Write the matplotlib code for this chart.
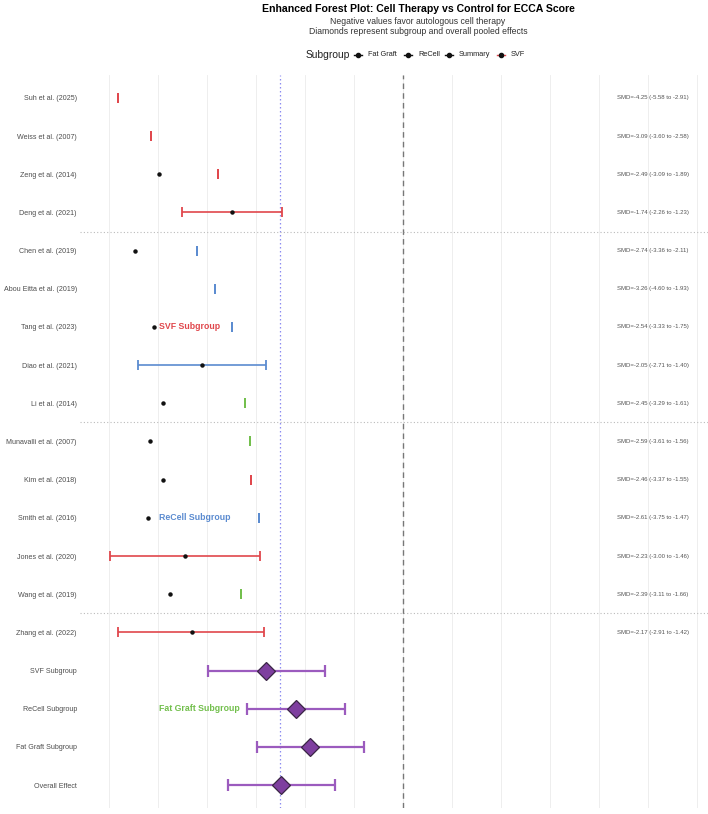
import numpy as np
import matplotlib
matplotlib.use("Agg")
import matplotlib.pyplot as plt
from matplotlib.lines import Line2D

plt.rcParams['font.family'] = ['Liberation Sans', 'DejaVu Sans']

# ---------------- data ----------------
studies = ["Suh et al. (2025)", "Weiss et al. (2007)", "Zeng et al. (2014)", "Deng et al. (2021)",
           "Chen et al. (2019)", "Abou Eitta et al. (2019)", "Tang et al. (2023)", "Diao et al. (2021)",
           "Li et al. (2014)", "Munavalli et al. (2007)", "Kim et al. (2018)", "Smith et al. (2016)",
           "Jones et al. (2020)", "Wang et al. (2019)", "Zhang et al. (2022)"]
study_groups = ["SVF", "SVF", "SVF", "SVF", "ReCell", "ReCell", "ReCell", "ReCell",
                "Fat Graft", "Fat Graft", "SVF", "ReCell", "SVF", "Fat Graft", "SVF"]
study_points = [np.nan, np.nan, -4.98, -3.49, -5.47, np.nan, -5.08, -4.10,
                -4.89, -5.16, -4.90, -5.20, -4.44, -4.75, -4.31]
study_lo = [-5.82, -5.14, -3.78, -4.51, -4.20, -3.84, -3.49, -5.41,
            -3.22, -3.12, -3.10, -2.94, -5.98, -3.31, -5.82]
study_hi = [-5.82, -5.14, -3.78, -2.47, -4.20, -3.84, -3.49, -2.80,
            -3.22, -3.12, -3.10, -2.94, -2.92, -3.31, -2.83]
smd_labels = ["SMD=-4.25 (-5.58 to -2.91)", "SMD=-3.09 (-3.60 to -2.58)", "SMD=-2.49 (-3.09 to -1.89)",
              "SMD=-1.74 (-2.26 to -1.23)", "SMD=-2.74 (-3.36 to -2.11)", "SMD=-3.26 (-4.60 to -1.93)",
              "SMD=-2.54 (-3.33 to -1.75)", "SMD=-2.05 (-2.71 to -1.40)", "SMD=-2.45 (-3.29 to -1.61)",
              "SMD=-2.59 (-3.61 to -1.56)", "SMD=-2.46 (-3.37 to -1.55)", "SMD=-2.61 (-3.75 to -1.47)",
              "SMD=-2.23 (-3.00 to -1.46)", "SMD=-2.39 (-3.11 to -1.66)", "SMD=-2.17 (-2.91 to -1.42)"]

summaries = ["SVF Subgroup", "ReCell Subgroup", "Fat Graft Subgroup", "Overall Effect"]
summary_est = [-2.80, -2.18, -1.90, -2.49]
summary_lo = [-3.98, -3.18, -2.98, -3.57]
summary_hi = [-1.59, -1.18, -0.80, -1.39]
overall_ref = -2.51

annot_texts = ["SVF Subgroup", "ReCell Subgroup", "Fat Graft Subgroup"]
annot_rows = [6, 11, 16]
annot_groups = ["SVF", "ReCell", "Fat Graft"]
annot_x = -4.98

separators = [3.5, 8.5, 13.5]
x_ticks = [-6, -5, -4, -3, -2, -1, 0, 1, 2, 3, 4, 5, 6]

legend_names = ["Fat Graft", "ReCell", "Summary", "SVF"]

# ---------------- style ----------------
group_colors = {"SVF": "#E0474C", "ReCell": "#5B8BD0", "Fat Graft": "#72BF4C"}
purple_line = "#9B5BBE"
purple_fill = "#7E3F9F"

W, H = 708, 814
fig = plt.figure(figsize=(W / 100, H / 100), dpi=100)
ax = fig.add_axes([80 / W, 1 - 808 / H, 1 - 80 / W, (808 - 75) / H])

all_labels = studies + summaries
n = len(all_labels)
ypos = np.arange(n)

# grid
for xv in x_ticks:
    ax.axvline(xv, color="#EBEBEB", lw=0.6, zorder=0)
ax.axvline(0, color="#777777", lw=1.0, ls=(0, (4, 3)), zorder=1)
ax.axvline(overall_ref, color="#8C8CF0", lw=0.9, ls=(0, (1.2, 2)), zorder=1)
for s in separators:
    ax.axhline(s, color="#BBBBBB", lw=0.8, ls=(0, (1, 2)), zorder=1, clip_on=False)

# study rows
for i in range(len(studies)):
    c = group_colors[study_groups[i]]
    lo, hi = study_lo[i], study_hi[i]
    ax.errorbar([(lo + hi) / 2], [ypos[i]], xerr=[[(hi - lo) / 2], [(hi - lo) / 2]],
                fmt='none', ecolor=c, elinewidth=1.2, capsize=3.6, capthick=1.3, zorder=3)
    if not np.isnan(study_points[i]):
        ax.plot(study_points[i], ypos[i], 'o', color='#111111', ms=2.2, zorder=4)
    ax.text(5.1, ypos[i], smd_labels[i], fontsize=4.3, color="#555555", ha='center', va='center')

# summary rows
for j in range(len(summaries)):
    k = len(studies) + j
    lo, hi, e = summary_lo[j], summary_hi[j], summary_est[j]
    ax.errorbar([(lo + hi) / 2], [ypos[k]], xerr=[[(hi - lo) / 2], [(hi - lo) / 2]],
                fmt='none', ecolor=purple_line, elinewidth=1.6, capsize=4.2, capthick=1.6, zorder=3)
    ax.plot(e, ypos[k], 'D', ms=9.5, mfc=purple_fill, mec="#3A2545", mew=0.9, zorder=5)

# annotations
for t, r, g in zip(annot_texts, annot_rows, annot_groups):
    ax.text(annot_x, ypos[r], t, fontsize=6.3, fontweight='bold', color=group_colors[g],
            ha='left', va='center', zorder=6)

ax.set_xlim(-6.59, 6.22)
ax.set_ylim(18.6, -0.6)
ax.set_yticks(ypos)
ax.set_yticklabels(all_labels, fontsize=5.15, color="#4D4D4D")
ax.set_xticks([])
ax.tick_params(axis='y', length=0, pad=2.2)
for sp in ax.spines.values():
    sp.set_visible(False)

# titles
cx = 418 / W
fig.text(cx, 1 - 8.5 / H, "Enhanced Forest Plot: Cell Therapy vs Control for ECCA Score",
         ha='center', va='center', fontsize=7.6, fontweight='bold', color='black')
fig.text(cx, 1 - 21 / H, "Negative values favor autologous cell therapy",
         ha='center', va='center', fontsize=6.2, color='#333333')
fig.text(cx, 1 - 31 / H, "Diamonds represent subgroup and overall pooled effects",
         ha='center', va='center', fontsize=6.2, color='#333333')

# legend (manual layout)
ly = 1 - 55 / H
fig.text(306 / W, ly, "Subgroup", ha='left', va='center', fontsize=7.4, color='#222222')
key_cols = ["#111111", "#111111", "#111111", group_colors["SVF"]]
key_x = [358, 408, 449, 501]
for kx, kc, name in zip(key_x, key_cols, legend_names):
    fig.add_artist(Line2D([(kx - 4) / W, (kx + 4) / W], [ly, ly], color=kc, lw=1.0,
                          transform=fig.transFigure))
    fig.add_artist(Line2D([kx / W], [ly], marker='o', ms=3, color='#111111', lw=0,
                          transform=fig.transFigure))
    fig.text((kx + 10) / W, ly, name, ha='left', va='center', fontsize=5.3, color='#222222')

fig.savefig("out.png", dpi=100)
